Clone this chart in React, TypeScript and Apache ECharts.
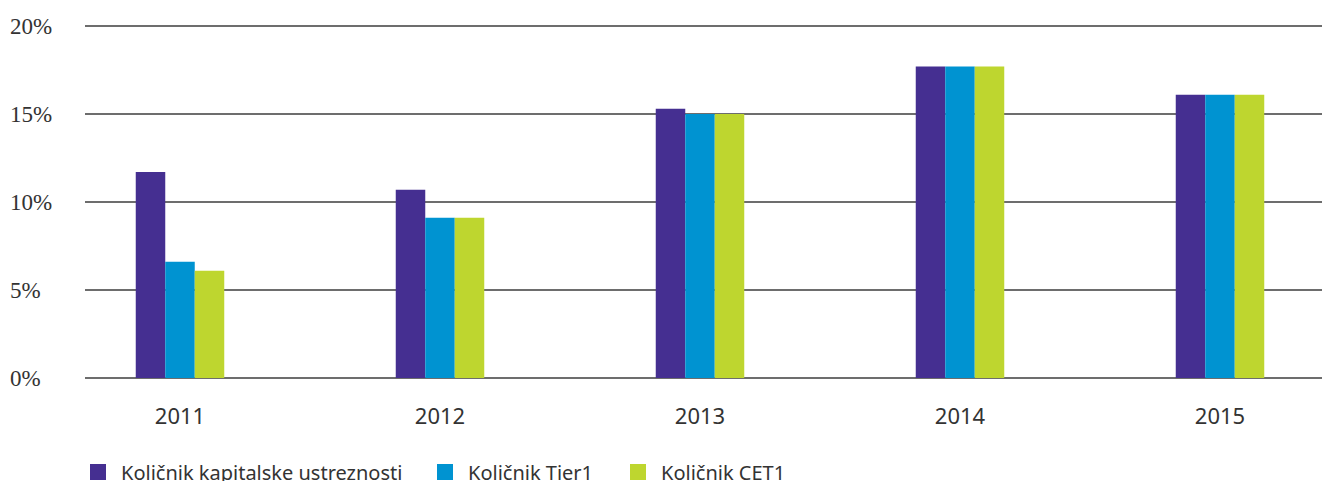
import React, { useEffect, useRef } from "react";
import * as echarts from "echarts";

const years = ["2011", "2012", "2013", "2014", "2015"];
const kapital = [11.7, 10.7, 15.3, 17.7, 16.1];
const tier1 = [6.6, 9.1, 15.0, 17.7, 16.1];
const cet1 = [6.1, 9.1, 15.0, 17.7, 16.1];
const seriesNames = ["Količnik kapitalske ustreznosti", "Količnik Tier1", "Količnik CET1"];
const colors = ["#452F91", "#0093D1", "#BED62F"];

export default function App() {
  const ref = useRef<HTMLDivElement>(null);
  useEffect(() => {
    document.body.style.margin = "0";
    const chart = echarts.init(ref.current!, null, { renderer: "svg" });
    const sans = "'Noto Sans', 'Open Sans', sans-serif";
    const legendLefts = [85, 432, 625];
    chart.setOption({
      animation: false,
      color: colors,
      legend: seriesNames.map((n, i) => ({
        left: legendLefts[i],
        top: 457,
        itemWidth: 16,
        itemHeight: 16,
        icon: "rect",
        textStyle: { fontFamily: sans, fontSize: 20, color: "#333", padding: [0, 0, 0, 10] },
        data: [n],
      })),
      grid: [
        { left: 50, width: 1300, top: 26, height: 352, outerBoundsMode: "none" },
        { left: 85, right: 0, top: 26, height: 352, outerBoundsMode: "none" },
      ],
      xAxis: [
        {
          type: "category",
          gridIndex: 0,
          data: years,
          axisLine: { show: false },
          axisTick: { show: false },
          axisLabel: { margin: 26, fontFamily: sans, fontSize: 22, color: "#333" },
        },
        { type: "value", gridIndex: 1, show: false },
      ],
      yAxis: [
        { type: "value", gridIndex: 0, min: 0, max: 20, interval: 5, show: false },
        {
          type: "value",
          gridIndex: 1,
          min: 0,
          max: 20,
          interval: 5,
          axisLine: { show: false },
          axisTick: { show: false },
          splitLine: { lineStyle: { color: "#3c3c3c", width: 1.6 } },
          axisLabel: {
            align: "left",
            margin: 75,
            fontFamily: "'Liberation Serif', 'DejaVu Serif', serif",
            fontSize: 23,
            color: "#333",
            verticalAlign: "middle",
            padding: [0, 0, 10, 0],
            formatter: "{value}%",
          },
        },
      ],
      series: [
        { name: seriesNames[0], type: "bar", xAxisIndex: 0, yAxisIndex: 0, data: kapital, barWidth: 29.5, barGap: "0%", z: 3 },
        { name: seriesNames[1], type: "bar", xAxisIndex: 0, yAxisIndex: 0, data: tier1, barWidth: 29.5, barGap: "0%", z: 3 },
        { name: seriesNames[2], type: "bar", xAxisIndex: 0, yAxisIndex: 0, data: cet1, barWidth: 29.5, barGap: "0%", z: 3 },
      ],
    });
    return () => chart.dispose();
  }, []);
  return <div ref={ref} style={{ width: 1322, height: 481 }} />;
}
